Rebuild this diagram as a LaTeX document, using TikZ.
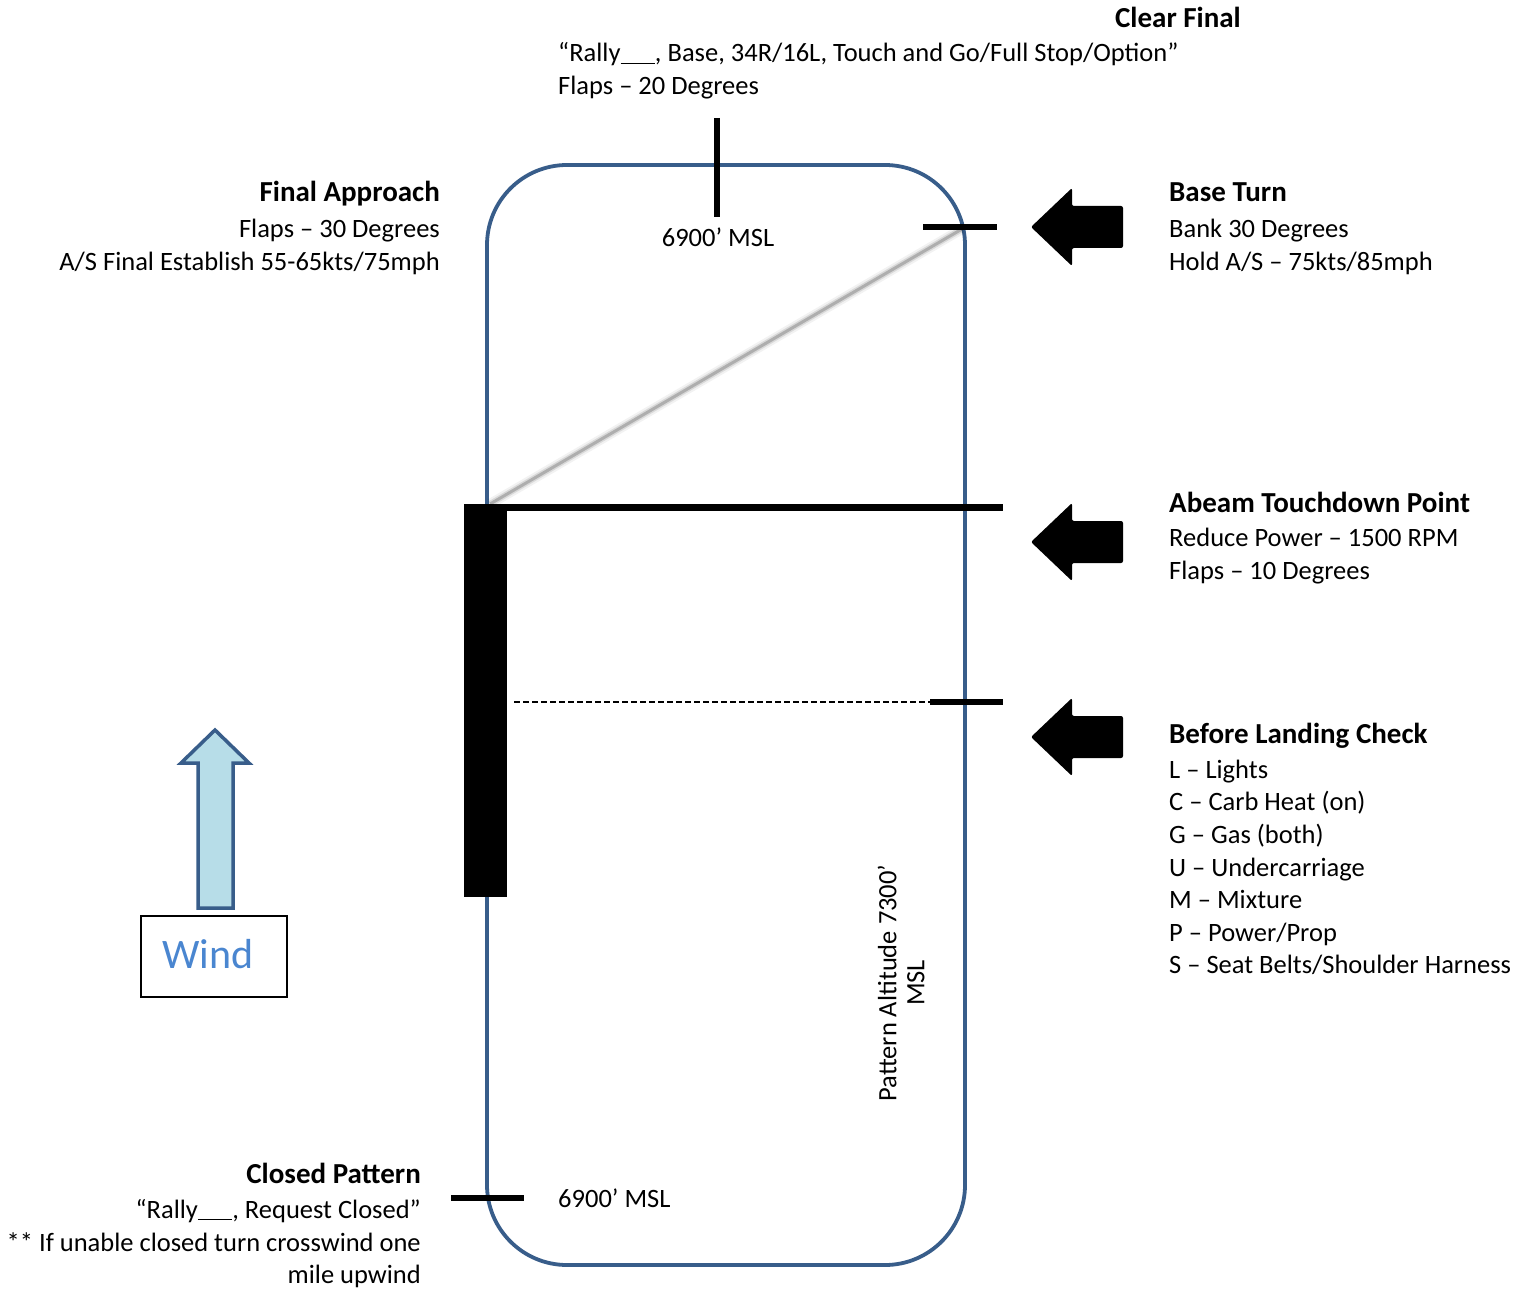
\documentclass[tikz,border=0pt]{standalone}
\usepackage{fontspec}
\setmainfont{Carlito}
\definecolor{pblue}{RGB}{56,93,138}
\definecolor{wfill}{RGB}{183,221,232}
\definecolor{wtext}{RGB}{74,134,208}
\begin{document}
\begin{tikzpicture}[x=1pt,y=-1pt,
  txt/.style={inner sep=0pt,font=\fontsize{26.5}{33}\selectfont},
  ltxt/.style={txt,anchor=base west},
  rtxt/.style={txt,anchor=base east},
  ttl/.style={font=\fontsize{29}{33}\selectfont\bfseries},
  tick/.style={line width=6pt,black},
  patt/.style={line width=3.8pt,draw=pblue,rounded corners=80pt},
  larrow/.pic={\fill[black,rounded corners=2pt] (0,0) -- (41,-39) -- (41,-21) -- (92,-21) -- (92,21) -- (41,21) -- (41,39) -- cycle;}
]
\useasboundingbox (0,0) rectangle (1514,1289);
\def\blank{\rule[-2pt]{1.3em}{0.9pt}}

% traffic pattern
\draw[patt] (487,165) rectangle (965,1265);

% shadowed diagonal
\draw[line width=10pt,black,opacity=0.05] (490,504) -- (962,229);
\draw[line width=6pt,black,opacity=0.1] (490,504) -- (962,229);
\draw[line width=3pt,black,opacity=0.2] (490,504) -- (962,229);

% runway and lines
\coordinate (rwtop) at (487,507);
\coordinate (abeamR) at (1003,507);
\fill[black] (464,504) rectangle (507,897);
\draw[line width=7pt,black] (rwtop) -- (abeamR);
\coordinate (dashL) at (514,702);
\coordinate (dashR) at (930,702);
\draw[line width=1.5pt,dash pattern=on 6pt off 3pt] (dashL) -- (dashR);
\draw[tick] (dashR) -- (1003,702);
\draw[tick] (923,227) -- (997,227);
\draw[tick] (717,118) -- (717,217);
\draw[tick] (451,1198) -- (524,1198);

% arrows
\pic at (1031,227) {larrow};
\pic at (1031,542) {larrow};
\pic at (1031,737) {larrow};

% wind
\draw[line width=3.5pt,draw=pblue,fill=wfill,line join=miter]
  (215,730) -- (249,763) -- (233,763) -- (233,908) -- (198,908) -- (198,763) -- (181,763) -- cycle;
\node[draw=black,line width=1.6pt,minimum width=146pt,minimum height=81pt,inner sep=0pt] (windbox) at (214,956.5) {};
\node[inner sep=0pt,anchor=base west,text=wtext,font=\fontsize{42}{44}\selectfont] (wind) at (162,968) {Wind};

% labels
\node[rtxt,ttl] (cf) at (1241,28) {Clear Final};
\node[ltxt] (cf1) at (558,62) {“Rally\blank, Base, 34R/16L, Touch and Go/Full Stop/Option”};
\node[ltxt] (cf2) at (558,95) {Flaps – 20 Degrees};
\node[txt,anchor=base] (msl1) at (718,247) {6900’ MSL};

\node[rtxt,ttl] (fa) at (440,202) {Final Approach};
\node[rtxt] (fa1) at (440,238) {Flaps – 30 Degrees};
\node[rtxt] (fa2) at (440,270) {A/S Final Establish 55-65kts/75mph};

\node[ltxt,ttl] (bt) at (1169,202) {Base Turn};
\node[ltxt] (bt1) at (1169,238) {Bank 30 Degrees};
\node[ltxt] (bt2) at (1169,270) {Hold A/S – 75kts/85mph};

\node[ltxt,ttl] (ab) at (1169,512) {Abeam Touchdown Point};
\node[ltxt] (ab1) at (1169,546) {Reduce Power – 1500 RPM};
\node[ltxt] (ab2) at (1169,579) {Flaps – 10 Degrees};

\node[ltxt,ttl] (bl) at (1169,743) {Before Landing Check};
\node[ltxt] (bl1) at (1169,778) {L – Lights};
\node[ltxt] (bl2) at (1169,810) {C – Carb Heat (on)};
\node[ltxt] (bl3) at (1169,843) {G – Gas (both)};
\node[ltxt] (bl4) at (1169,876) {U – Undercarriage};
\node[ltxt] (bl5) at (1169,908) {M – Mixture};
\node[ltxt] (bl6) at (1169,941) {P – Power/Prop};
\node[ltxt] (bl7) at (1169,973) {S – Seat Belts/Shoulder Harness};

\node[rtxt,ttl] (cp) at (421,1183) {Closed Pattern};
\node[rtxt] (cp1) at (421,1218) {“Rally\blank, Request Closed”};
\node[rtxt] (cp2) at (421,1251) {** If unable closed turn crosswind one};
\node[rtxt] (cp3) at (421,1283) {mile upwind};
\node[ltxt] (msl2) at (558,1207) {6900’ MSL};

\node[txt,rotate=90,align=center,font=\fontsize{26.5}{28}\selectfont] (pa) at (901,983) {Pattern Altitude 7300’\\MSL};
\end{tikzpicture}
\end{document}
